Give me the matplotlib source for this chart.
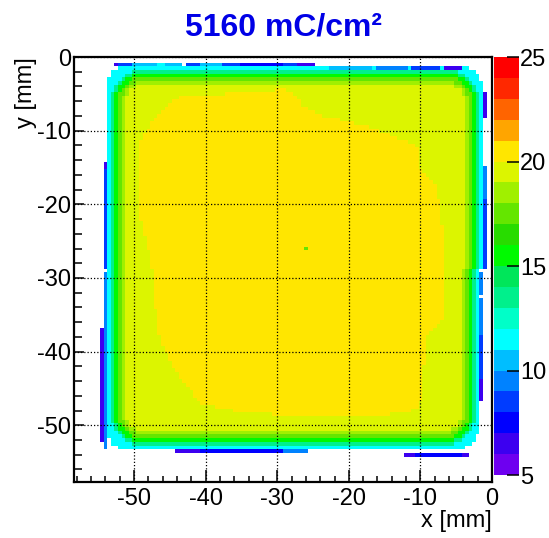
import numpy as np
import matplotlib.pyplot as plt
from matplotlib.colors import ListedColormap, BoundaryNorm
from matplotlib.path import Path
from matplotlib.ticker import MultipleLocator

plt.rcParams['font.family'] = ['Liberation Sans', 'DejaVu Sans']
plt.rcParams['axes.unicode_minus'] = False

# --- palette: one colour per unit from 5 to 25 ---
palette = ['#6e00f0', '#3c00f0', '#0000ff', '#003cff', '#0082ff', '#00beff',
           '#00ffff', '#00ffc8', '#00f08c', '#00e65a', '#00fa00', '#28dc00',
           '#64e600', '#a0f000', '#dcf500', '#ffe600', '#ffa500', '#ff6400',
           '#ff2800', '#ff0000']
levels = np.arange(5, 26, 1)
cbar_ticks = [5, 10, 15, 20, 25]

# --- histogram binning (mm) ---
bin_w = 0.5
x_edges = np.arange(-58.75, 0.26, bin_w)
y_edges = np.arange(-58.25, 0.26, bin_w)

# --- illuminated area ---
body_left = -53.75
body_right = [-1.25, -1.75]      # upper half, lower half
body_right_split = -29.0
body_top = -1.25
body_bottom = -53.25
corner_r = [2.5, 3.0]            # outline: left corners, right corners
band_r = 5.0                     # rounding of the inner colour bands

# value vs. distance from the edge (one entry per bin)
edge_profile = [11.5, 13.5, 15.5, 17.0, 18.5]
margin_level = 19.5
core_level = 20.5

# boundary of the yellow (20-21) core
core_x = [-44.9, -44.0, -29.0, -27.0, -26.9, -23.6, -17.0, -13.0, -10.6, -10.0,
          -8.0, -7.2, -6.8, -6.5, -6.8, -9.0, -9.5, -9.5, -10.6, -15.0,
          -29.0, -35.0, -40.7, -43.0, -44.4, -46.5, -47.2, -47.5, -48.3, -49.5,
          -49.5, -49.1, -47.7, -45.5]
core_y = [-5.9, -5.5, -4.4, -5.5, -6.4, -8.0, -9.5, -11.0, -11.8, -15.0,
          -17.0, -20.4, -25.0, -30.0, -35.7, -37.9, -42.0, -46.1, -47.9, -48.6,
          -48.6, -48.3, -47.0, -44.3, -42.4, -38.0, -33.0, -29.0, -25.0, -20.0,
          -14.0, -11.4, -9.1, -6.5]

# thin strips around the edge: (x0, x1, y0, y1, value)
top_strip = [(-52.75, -52.25, -1.25, -0.75, 6.2), (-52.25, -50.25, -1.25, -0.75, 8.5),
             (-50.25, -46.75, -1.25, -0.75, 10.5), (-46.75, -45.75, -1.25, -0.75, 11.5),
             (-45.75, -43.0, -1.25, -0.75, 10.5), (-43.0, -40.75, -1.25, -0.75, 8.5),
             (-40.75, -37.75, -1.25, -0.75, 10.5), (-37.75, -35.25, -1.25, -0.75, 8.5),
             (-35.25, -29.25, -1.25, -0.75, 7.5), (-29.25, -27.25, -1.25, -0.75, 8.0),
             (-27.25, -24.75, -1.25, -0.75, 6.2),
             (-24.75, -23.0, -1.75, -1.25, 11.5), (-23.0, -16.5, -1.75, -1.25, 10.5),
             (-16.5, -11.5, -1.75, -1.25, 9.5), (-11.5, -7.0, -1.75, -1.25, 8.0),
             (-7.0, -4.25, -1.75, -1.25, 6.5)]
right_strip = [(-1.25, -0.75, -8.5, -4.5, 6.2), (-1.25, -0.75, -19.1, -14.75, 9.5),
               (-1.25, -0.75, -29.0, -19.1, 8.0), (-1.75, -1.25, -32.5, -29.0, 9.0),
               (-1.75, -1.25, -37.9, -32.5, 9.8), (-1.75, -1.25, -43.8, -37.9, 8.0),
               (-1.75, -1.25, -47.0, -43.8, 6.2)]
left_strip = [(-54.25, -53.75, -15.25, -14.25, 6.5), (-54.25, -53.75, -29.0, -15.25, 8.5),
              (-54.25, -53.75, -53.25, -29.0, 9.5), (-54.75, -54.25, -36.0, -35.5, 6.2),
              (-54.75, -54.25, -52.25, -36.75, 6.2)]
bottom_strip = [(-44.25, -40.75, -53.75, -53.25, 6.2), (-40.75, -29.25, -53.75, -53.25, 7.5),
                (-29.25, -25.75, -53.75, -53.25, 9.5), (-12.25, -10.75, -54.25, -53.75, 6.2),
                (-10.75, -4.25, -54.25, -53.75, 7.8), (-4.25, -3.25, -54.25, -53.75, 6.2)]
specks = [(-26.25, -25.75, -26.25, -25.75, 17.5)]


def edge_distance(dx, dy, r):
    corner = (dx < r) & (dy < r)
    return np.where(corner, r - np.hypot(r - dx, r - dy), np.minimum(dx, dy))


# --- build the map ---
xc = 0.5 * (x_edges[:-1] + x_edges[1:])
yc = 0.5 * (y_edges[:-1] + y_edges[1:])
X, Y = np.meshgrid(xc, yc)
right = np.where(Y > body_right_split, body_right[0], body_right[1])
dl = X - body_left
dr = right - X
dx = np.minimum(dl, dr)
dy = np.minimum(body_top - Y, Y - body_bottom)
r_out = np.where(dl < dr, corner_r[0], corner_r[1])
inside = edge_distance(dx, dy, r_out) > 0
d = np.clip(edge_distance(dx, dy, band_r), 0, None)

Z = np.full(X.shape, np.nan)
k = np.floor(d / bin_w).astype(int)
prof = np.array(edge_profile + [margin_level])
Z[inside] = prof[np.clip(k[inside], 0, len(edge_profile))]
core = Path(np.column_stack([core_x, core_y])).contains_points(
    np.column_stack([X.ravel(), Y.ravel()])).reshape(X.shape)
Z[core & inside] = core_level

for x0, x1, y0, y1, v in top_strip + right_strip + left_strip + bottom_strip + specks:
    Z[(X > x0) & (X < x1) & (Y > y0) & (Y < y1)] = v

# --- plot ---
fig = plt.figure(figsize=(5.49, 5.38), dpi=100)
ax = fig.add_axes([0.1348, 0.1041, 0.7614, 0.7899])
cmap = ListedColormap(palette)
norm = BoundaryNorm(levels, cmap.N)
mesh = ax.pcolormesh(x_edges, y_edges, Z, cmap=cmap, norm=norm)

ax.set_xlim(-58.4, 0)
ax.set_ylim(-57.7, 0)
ax.xaxis.set_major_locator(MultipleLocator(10))
ax.xaxis.set_minor_locator(MultipleLocator(2))
ax.yaxis.set_major_locator(MultipleLocator(10))
ax.yaxis.set_minor_locator(MultipleLocator(2))
ax.tick_params(which='both', direction='in', top=False, right=False, width=1.1)
ax.tick_params(axis='x', which='major', length=9, pad=4, labelsize=17)
ax.tick_params(axis='x', which='minor', length=4.5)
ax.tick_params(axis='y', which='major', length=7, pad=2, labelsize=17)
ax.tick_params(axis='y', which='minor', length=6)
ax.set_axisbelow(False)
ax.grid(True, which='major', color='black', linestyle=(0, (1, 1.6)), linewidth=0.9)
for s in ax.spines.values():
    s.set_linewidth(1.6)

ax.set_xlabel('x [mm]', loc='right', fontsize=17, labelpad=0)
ax.set_ylabel('y [mm]', loc='top', fontsize=17, labelpad=0)

cax = fig.add_axes([0.8998, 0.1171, 0.0455, 0.7769])
cb = fig.colorbar(mesh, cax=cax, ticks=cbar_ticks)
cb.outline.set_visible(False)
cax.tick_params(direction='in', length=9, width=1.1, labelsize=17, pad=1)
cax.minorticks_off()

fig.text(0.517, 0.948, '5160 mC/cm²', ha='center', va='center',
         color='#0000e6', fontsize=23, fontweight='bold')

fig.savefig('out.png', dpi=100)
